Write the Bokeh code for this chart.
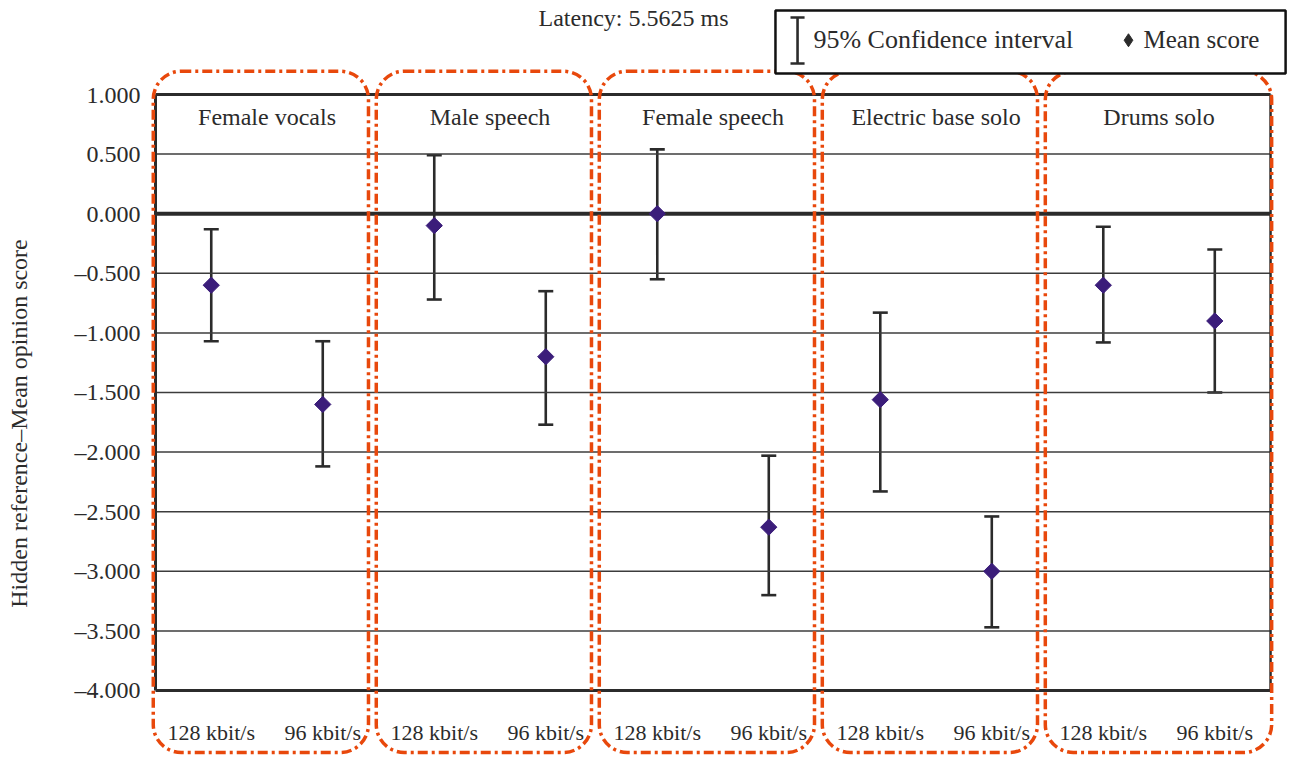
import math
from bokeh.plotting import figure
from bokeh.layouts import row
from bokeh.models import (ColumnDataSource, Whisker, TeeHead, FixedTicker,
                          CustomJSTickFormatter, Range1d)
from bokeh.core.properties import value
from bokeh.embed import file_html
from bokeh.resources import INLINE

# ---------------- data ----------------
groups = ["Female vocals", "Male speech", "Female speech", "Electric base solo", "Drums solo"]
rates = ["128 kbit/s", "96 kbit/s"]
means = [-0.60, -1.60, -0.10, -1.20, 0.00, -2.63, -1.56, -3.00, -0.60, -0.90]
ci_upper = [-0.13, -1.07, 0.49, -0.65, 0.54, -2.03, -0.83, -2.54, -0.11, -0.30]
ci_lower = [-1.07, -2.12, -0.72, -1.77, -0.55, -3.20, -2.33, -3.47, -1.08, -1.50]
y_ticks = [1.0, 0.5, 0.0, -0.5, -1.0, -1.5, -2.0, -2.5, -3.0, -3.5, -4.0]
heavy_lines = [1.0, 0.0, -4.0]
title_text = "Latency: 5.5625 ms"
y_label = "Hidden reference\u2013Mean opinion score"
legend_ci = "95% Confidence interval"
legend_mean = "Mean score"

FONT = "Liberation Serif"
INK = "#2b2b2b"
ORANGE = "#e8480c"
PURPLE = "#3b1d7a"

Y0, Y1 = -4.5705, 1.7886

n_slots = len(groups) * len(rates)
x_pos = [i + 0.5 for i in range(n_slots)]
slot_labels = [rates[i % len(rates)] for i in range(n_slots)]

p = figure(width=1253, height=758, output_backend="svg", toolbar_location=None,
           x_axis_type=None,
           x_range=Range1d(-0.0628, 10.170), y_range=Range1d(Y0, Y1),
           min_border_left=112, min_border_right=0, min_border_top=0, min_border_bottom=0,
           outline_line_color=None, background_fill_color="white", border_fill_color="white")
p.xgrid.grid_line_color = None
p.ygrid.grid_line_color = None

# y axis (library axis)
ax = p.yaxis[0]
ax.ticker = FixedTicker(ticks=y_ticks)
ax.formatter = CustomJSTickFormatter(code="""
    const s = Math.abs(tick).toFixed(3);
    return (tick < -1e-9 ? "\u2013" : "") + s;
""")
ax.axis_line_color = None
ax.major_tick_line_color = None
ax.minor_tick_line_color = None
ax.major_tick_out = 0
ax.major_tick_in = 0
ax.major_label_standoff = 8
ax.major_label_text_font = FONT
ax.major_label_text_font_size = "24px"
ax.major_label_text_color = INK

# grid lines
thin = [t for t in y_ticks if t not in heavy_lines]
p.segment(x0=0, x1=n_slots, y0=thin, y1=thin, line_color="#3c3c3c", line_width=1.5)
p.segment(x0=0, x1=n_slots, y0=[1.0, -4.0], y1=[1.0, -4.0], line_color=INK, line_width=3)
p.segment(x0=0, x1=n_slots, y0=[0.0], y1=[0.0], line_color=INK, line_width=4)
# frame sides
p.segment(x0=[0, n_slots], x1=[0, n_slots], y0=[-4.0, -4.0], y1=[1.0, 1.0],
          line_color=INK, line_width=[3, 2.5])

# group titles
p.text(x=[2 * i + 1 for i in range(len(groups))], y=[0.815] * len(groups), text=groups,
       text_font=value(FONT), text_font_size="24px", text_color=INK,
       text_align="center", text_baseline="middle")
# slot labels
p.text(x=x_pos, y=[-4.352] * n_slots, text=slot_labels,
       text_font=value(FONT), text_font_size="22px", text_color=INK,
       text_align="center", text_baseline="middle")

# error bars
src = ColumnDataSource(dict(x=x_pos, mean=means, upper=ci_upper, lower=ci_lower))
wk = Whisker(source=src, base="x", upper="upper", lower="lower", dimension="height",
             line_color=INK, line_width=2.6,
             upper_head=TeeHead(size=15, line_color=INK, line_width=2.6),
             lower_head=TeeHead(size=15, line_color=INK, line_width=2.6))
p.add_layout(wk)
p.scatter(x="x", y="mean", source=src, marker="square", angle=math.pi / 4, size=11.5,
          fill_color=PURPLE, line_color=PURPLE)

# orange rounded group boxes
lefts = [2 * i - 0.02 for i in range(len(groups))]
rights = [2 * i + 2 - 0.09 for i in range(len(groups) - 1)] + [10.01]
p.quad(left=lefts, right=rights, top=[1.195] * len(groups), bottom=[-4.52] * len(groups),
       fill_color=None, line_color=ORANGE, line_width=3.5, line_dash="10 4 3 4",
       border_radius=28)

# title text
p.text(x=[4.287], y=[1.6376], text=[title_text], text_font=value(FONT),
       text_font_size="24px", text_color=INK, text_align="center", text_baseline="middle")

# legend box
p.quad(left=[5.56], right=[10.135], top=[1.705], bottom=[1.176],
       fill_color="white", line_color="#111111", line_width=2.5)
p.segment(x0=[5.758, 5.695, 5.695], x1=[5.758, 5.821, 5.821],
          y0=[1.260, 1.646, 1.260], y1=[1.646, 1.646, 1.260],
          line_color=INK, line_width=2.6)
p.text(x=[5.90], y=[1.461], text=[legend_ci], text_font=value(FONT),
       text_font_size="26px", text_color=INK, text_align="left", text_baseline="middle")
p.scatter(x=[8.726], y=[1.455], marker="diamond", size=13,
          fill_color=INK, line_color=INK)
p.text(x=[8.86], y=[1.461], text=[legend_mean], text_font=value(FONT),
       text_font_size="25px", text_color=INK, text_align="left", text_baseline="middle")

# y axis label in a narrow side panel sharing the same vertical scale
side = figure(width=36, height=758, output_backend="svg", toolbar_location=None,
              x_axis_type=None, y_axis_type=None,
              x_range=Range1d(0, 1), y_range=Range1d(Y0, Y1),
              min_border_left=0, min_border_right=0, min_border_top=0, min_border_bottom=0,
              outline_line_color=None, background_fill_color="white", border_fill_color="white")
side.xgrid.grid_line_color = None
side.ygrid.grid_line_color = None
side.text(x=[0.5], y=[-1.760], text=[y_label], angle=math.pi / 2,
          text_font=value(FONT), text_font_size="24px", text_color=INK,
          text_align="center", text_baseline="middle")

layout = row(side, p)
open("out.html", "w").write(file_html(layout, INLINE))
